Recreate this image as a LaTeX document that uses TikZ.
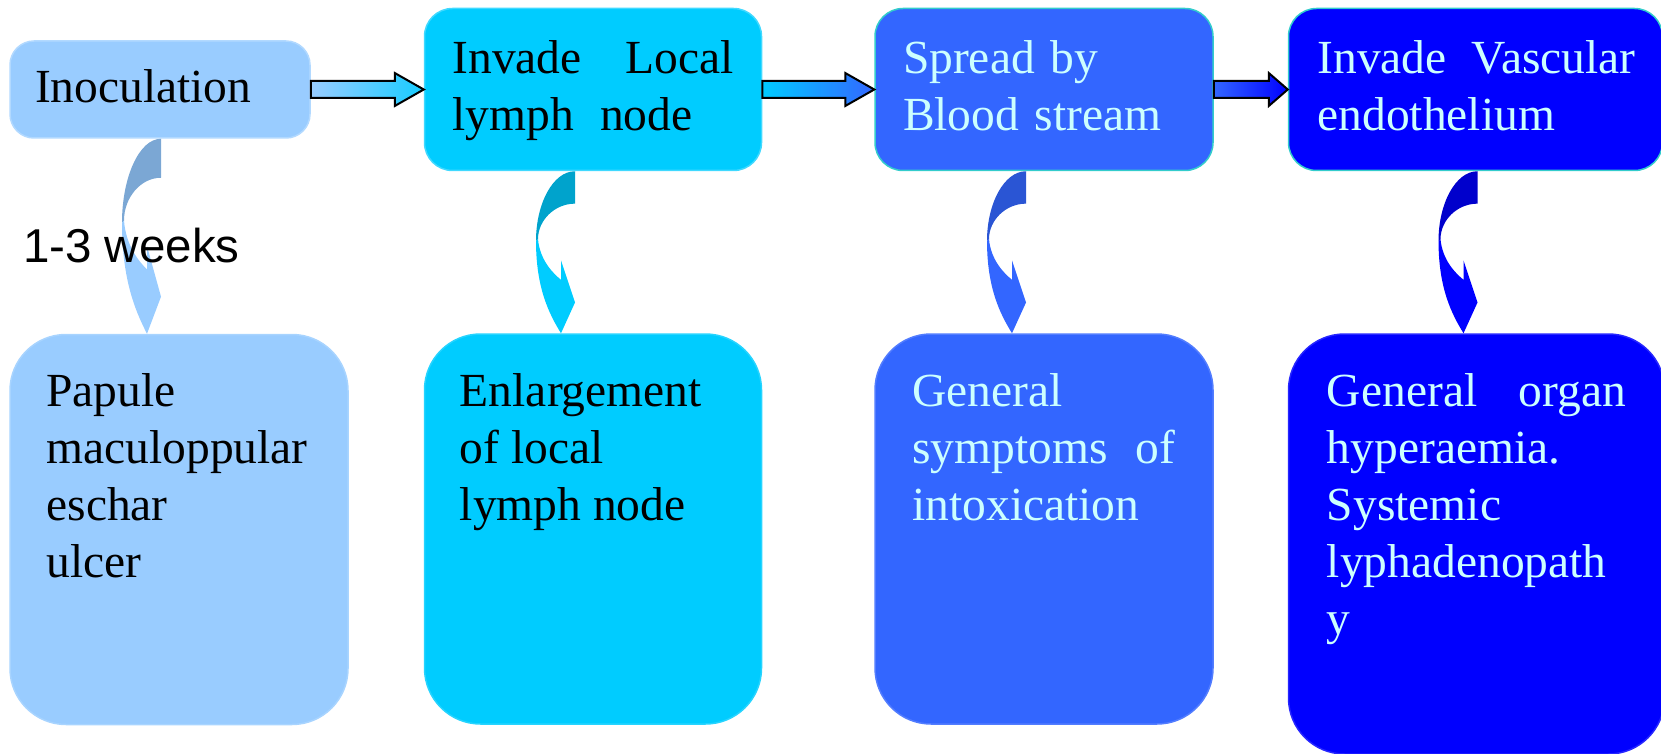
\documentclass[tikz,border=0pt]{standalone}
\usepackage{fontspec}
\setmainfont{Liberation Serif}
\setsansfont{Liberation Sans}
\usetikzlibrary{positioning, calc}

\definecolor{paleblue}{HTML}{99CCFF}
\definecolor{skyblue}{HTML}{00CCFF}
\definecolor{royal}{HTML}{3366FF}
\definecolor{pureblue}{HTML}{0000FF}
\definecolor{paledark}{HTML}{7BA7D4}
\definecolor{skydark}{HTML}{00A3CC}
\definecolor{royaldark}{HTML}{2A55D4}
\definecolor{puredark}{HTML}{0000CC}
\definecolor{paletext}{HTML}{CCFFFF}
\definecolor{tealline}{HTML}{33CCCC}

\newcommand{\bigtext}{\fontsize{47.5}{57}\selectfont}
\newcommand{\topstrut}{\rule{0pt}{43pt}}

% bent arrow under a stage: from, to, x offset, back colour, front colour
\newcommand{\bendarrow}[5]{%
  \fill[#4] let \p1=($(#1.south)+(#3,0)$), \p2=(#2.north), \n1={\y1-\y2} in
    (\x1,\y1) -- (\x1,{\y1-0.2*\n1})
    .. controls ({\x1-20pt},{\y1-0.2*\n1}) and ({\x1-37pt},{\y1-0.3*\n1}) .. ({\x1-37pt},{\y1-0.42*\n1})
    -- ({\x1-39pt},{\y1-0.43*\n1})
    .. controls ({\x1-39pt},{\y1-0.2*\n1}) and ({\x1-22pt},\y1) .. cycle;
  \fill[#5] let \p1=($(#1.south)+(#3,0)$), \p2=(#2.north), \n1={\y1-\y2} in
    ({\x1-39pt},{\y1-0.43*\n1})
    .. controls ({\x1-39pt},{\y1-0.72*\n1}) and ({\x1-26pt},{\y1-0.88*\n1}) .. ({\x1-14pt},\y2)
    -- (\x1,{\y1-0.81*\n1}) -- ({\x1-14pt},{\y1-0.55*\n1}) -- ({\x1-14pt},{\y1-0.67*\n1})
    .. controls ({\x1-22pt},{\y1-0.63*\n1}) and ({\x1-35pt},{\y1-0.55*\n1}) .. ({\x1-37pt},{\y1-0.42*\n1})
    -- cycle;
}

% block arrow between stages: from, to, head length, left colour, right colour
\newcommand{\flatarrow}[5]{%
  \path[blockarrow, left color=#4, right color=#5] let \p1=(#1.east), \p2=(#2.west) in
    (\x1,{\y2+8.5pt}) -- ({\x2-#3pt},{\y2+8.5pt}) -- ({\x2-#3pt},{\y2+16.5pt})
    -- (\x2,\y2) -- ({\x2-#3pt},{\y2-16.5pt}) -- ({\x2-#3pt},{\y2-8.5pt})
    -- (\x1,{\y2-8.5pt}) -- cycle;
}

\begin{document}
\begin{tikzpicture}[
    x=1pt, y=-1pt,
    stage/.style={
        rectangle, rounded corners=28pt, fill=#1, draw=#1!75!white,
        line width=1.5pt, minimum height=162pt, inner xsep=28pt,
        inner ysep=0pt, align=left, font=\bigtext
    },
    outcome/.style={
        rectangle, rounded corners=56pt, fill=#1, draw=#1!85!white,
        line width=1.5pt, minimum height=390pt, inner sep=0pt
    },
    listtext/.style={
        anchor=north west, inner sep=0pt, align=left, font=\bigtext
    },
    blockarrow/.style={
        draw=black, line width=2pt, line join=miter
    }
]
\useasboundingbox (0,0) rectangle (1661,754);

% ── Stages ──
\node[stage=paleblue, minimum width=300pt, minimum height=97pt,
      rounded corners=24pt, inner xsep=25pt, text width=250pt] (inoc) at (160,89.5)
      {\topstrut Inoculation\strut};
\node[stage=skyblue, right=113pt of inoc, text width=281pt] (local)
      {\topstrut\makebox[281pt]{Invade\hfill Local}\\lymph\hspace{0.55em}node\strut};
\node[stage=royal, draw=tealline, text=paletext, right=112pt of local, text width=282pt] (blood)
      {\topstrut Spread by\\Blood stream\strut};
\node[stage=pureblue, draw=tealline, text=paletext, right=74pt of blood,
      inner xsep=29pt, text width=316pt] (vasc)
      {\topstrut\makebox[318pt]{Invade\hfill Vascular}\\endothelium\strut};

% ── Outcomes ──
\node[outcome=paleblue, minimum width=338pt, below=195pt of inoc, xshift=19pt] (papule) {};
\node[outcome=skyblue, minimum width=337pt, below=162pt of local] (enlarge) {};
\node[outcome=royal, minimum width=338pt, below=162pt of blood] (symptoms) {};
\node[outcome=pureblue, minimum width=376pt, minimum height=420pt,
      below=162pt of vasc, xshift=1pt] (organ) {};

\node[listtext] (papuletext) at ($(papule.north west)+(37,33)$)
      {\strut Papule\\maculoppular\\eschar\\ulcer};
\node[listtext] (enlargetext) at ($(enlarge.north west)+(36,33)$)
      {\strut Enlargement\\of local\\lymph node};
\node[listtext, text=paletext] (symptomstext) at ($(symptoms.north west)+(38,33)$)
      {\strut General\\\makebox[263pt]{symptoms\hfill of}\\intoxication};
\node[listtext, text=paletext] (organtext) at ($(organ.north west)+(39,33)$)
      {\strut\makebox[299pt]{General\hfill organ}\\hyperaemia.\\Systemic\\lyphadenopath\\y};

% ── Arrows ──
\flatarrow{inoc}{local}{29}{paleblue}{skyblue!85!paleblue}
\flatarrow{local}{blood}{29}{skyblue}{royal}
\flatarrow{blood}{vasc}{19}{royal}{pureblue}

\bendarrow{inoc}{papule}{1}{paledark}{paleblue}
\bendarrow{local}{enlarge}{-18}{skydark}{skyblue}
\bendarrow{blood}{symptoms}{-18}{royaldark}{royal}
\bendarrow{vasc}{organ}{2}{puredark}{pureblue}

\node[font=\sffamily\bigtext, anchor=base west, inner sep=0pt] (weeks) at (23,262) {1-3 weeks};

\end{tikzpicture}
\end{document}
